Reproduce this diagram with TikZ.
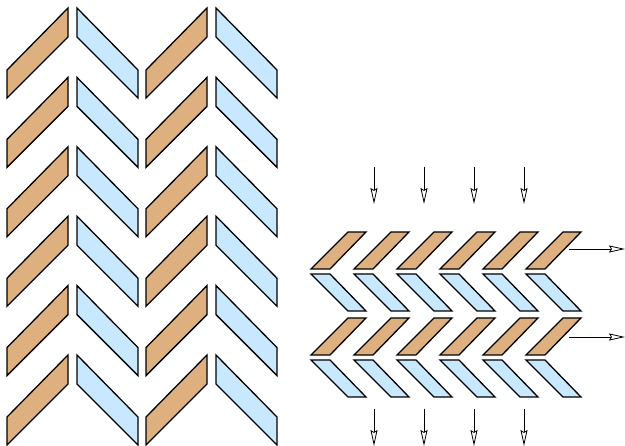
\documentclass[tikz,border=0pt]{standalone}
\usepackage{tikz}
\usetikzlibrary{arrows.meta}
\definecolor{tan}{RGB}{222,176,128}
\definecolor{paleblue}{RGB}{200,232,255}
\tikzstyle{brick} = [fill=tan, draw=black, line width=1.3pt, line join=miter]
\tikzstyle{tile} = [fill=paleblue, draw=black, line width=1.3pt, line join=miter]
\tikzstyle{flow} = [line width=0.8pt, -{Stealth[open, length=16pt, width=7pt, inset=2pt]}]

\begin{document}
\begin{tikzpicture}[x=1pt, y=-1pt]
\useasboundingbox (0,0) rectangle (625,446);

% Herringbone, upright
\foreach \c in {0,1} {
  \foreach \r in {0,...,5} {
    \begin{scope}[shift={(139*\c, 69.4*\r)}]
      \draw[brick] (7,70) -- (68,8) -- (68,37) -- (7,98) -- cycle;
      \draw[tile] (77,8) -- (138,70) -- (138,98) -- (77,37) -- cycle;
    \end{scope}
  }
}

% Herringbone, compressed
\foreach \r in {0,1} {
  \foreach \c in {0,...,5} {
    \begin{scope}[shift={(43*\c, 86*\r)}]
      \draw[brick] (311,269) -- (330,269) -- (366,232) -- (348,232) -- cycle;
      \draw[tile] (311,274) -- (330,274) -- (366,311) -- (348,311) -- cycle;
    \end{scope}
  }
}

% Load and flow
\foreach \i in {0,...,3} {
  \coordinate (inA\i) at (374+50*\i, 167);
  \coordinate (inB\i) at (374+50*\i, 204);
  \coordinate (outA\i) at (374+50*\i, 409);
  \coordinate (outB\i) at (374+50*\i, 446);
  \draw[flow] (inA\i) -- (inB\i);
  \draw[flow] (outA\i) -- (outB\i);
}
\coordinate (topS) at (569,249);
\coordinate (topE) at (625,249);
\coordinate (lowS) at (569,337);
\coordinate (lowE) at (625,337);
\draw[flow] (topS) -- (topE);
\draw[flow] (lowS) -- (lowE);

\end{tikzpicture}
\end{document}
